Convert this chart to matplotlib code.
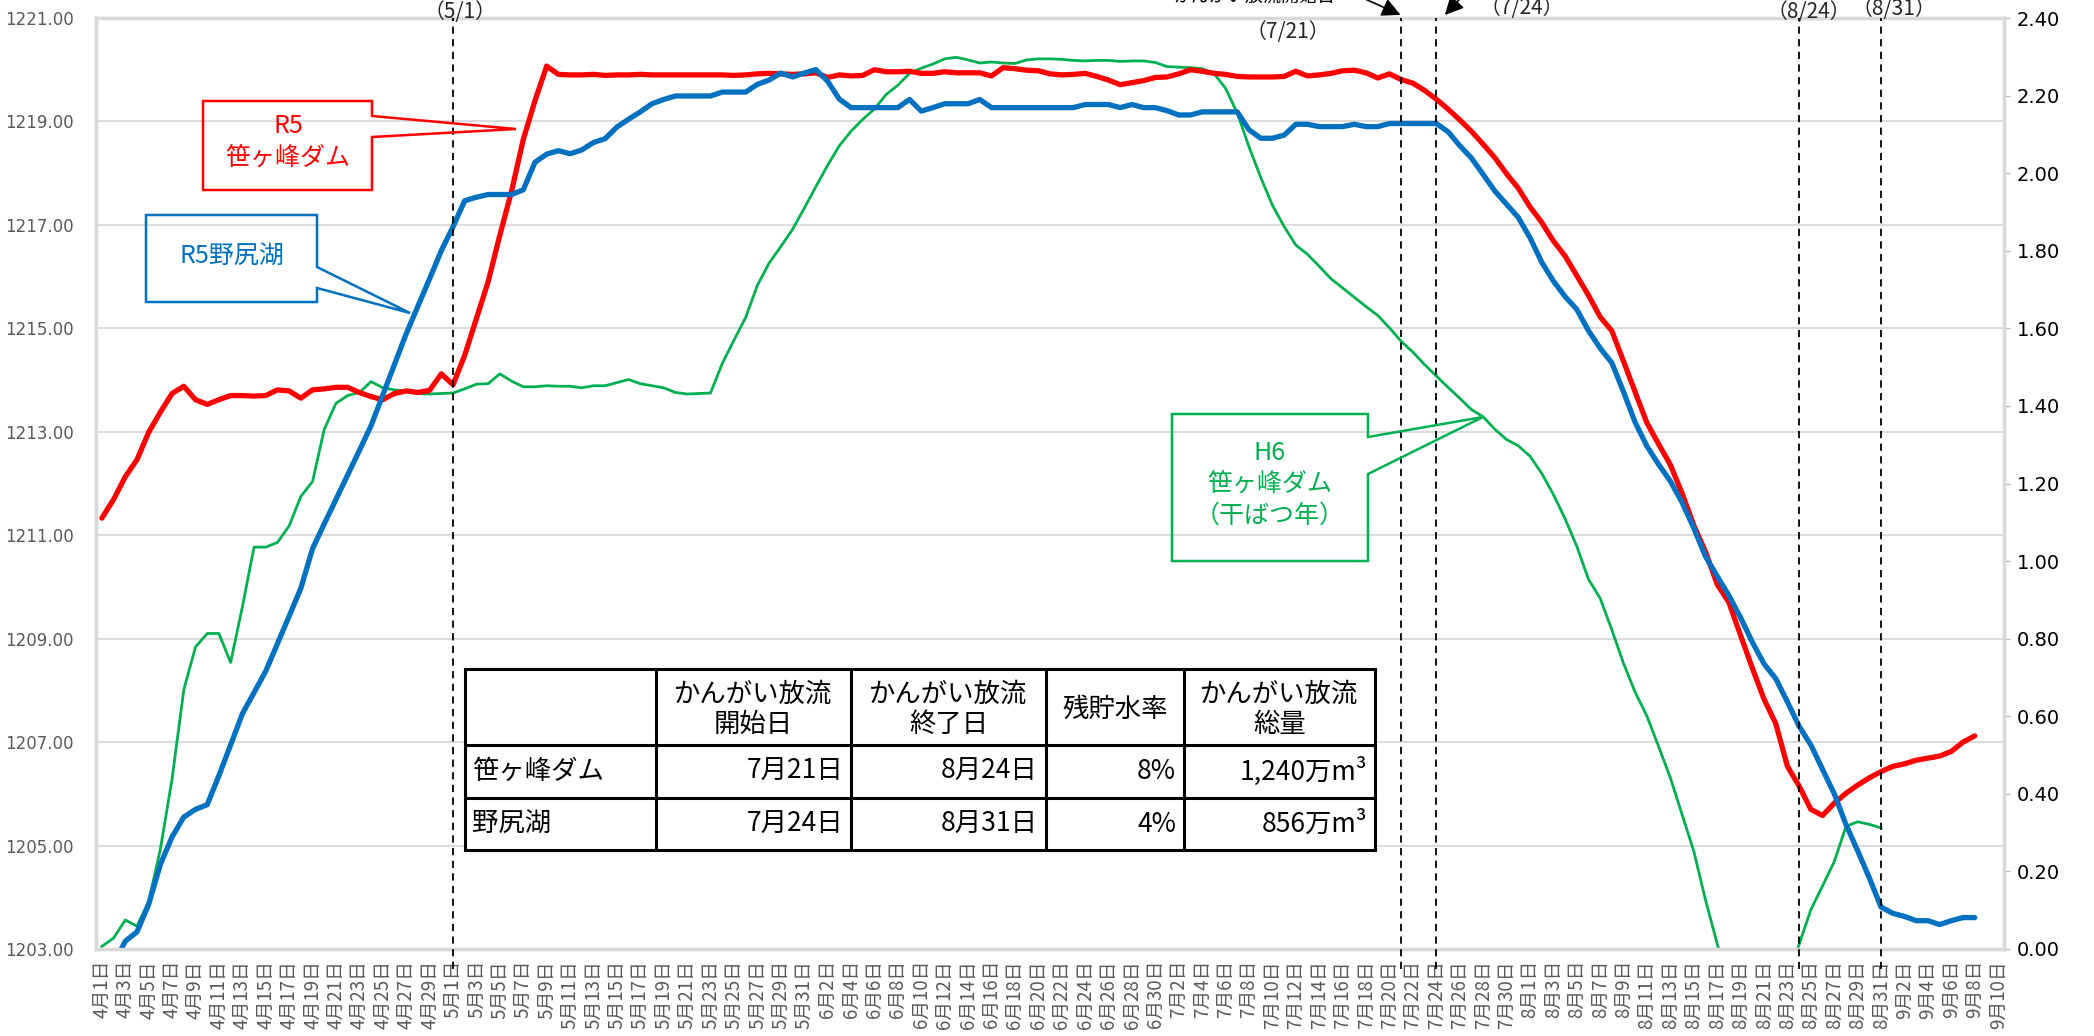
import numpy as np
import pandas as pd
import matplotlib
matplotlib.use('Agg')
import matplotlib.pyplot as plt
import matplotlib.transforms as mtransforms
from matplotlib.patches import Polygon, Rectangle

plt.rcParams['font.family'] = ['Noto Sans CJK JP', 'DejaVu Sans']

# --- data -------------------------------------------------------------
dates = pd.date_range('2023-04-01', '2023-09-10', freq='D')
day_labels = [f'{d.month}月{d.day}日' for d in dates]

# R5 笹ヶ峰ダム 貯水位 (m, left axis), 4/1 - 9/8
sasagamine_r5 = [
    1211.33, 1211.69, 1212.13, 1212.46, 1212.99, 1213.38, 1213.74, 1213.88, 1213.62, 1213.53,
    1213.62, 1213.70, 1213.70, 1213.69, 1213.70, 1213.81, 1213.79, 1213.65, 1213.81, 1213.83,
    1213.86, 1213.86, 1213.76, 1213.68, 1213.62, 1213.74, 1213.79, 1213.76, 1213.80, 1214.12,
    1213.91, 1214.48, 1215.19, 1215.90, 1216.80, 1217.65, 1218.65, 1219.40, 1220.07, 1219.91,
    1219.90, 1219.90, 1219.91, 1219.89, 1219.90, 1219.90, 1219.91, 1219.90, 1219.90, 1219.90,
    1219.90, 1219.90, 1219.90, 1219.90, 1219.89, 1219.90, 1219.92, 1219.93, 1219.92, 1219.91,
    1219.92, 1219.94, 1219.85, 1219.90, 1219.88, 1219.89, 1220.00, 1219.96, 1219.96, 1219.97,
    1219.93, 1219.93, 1219.96, 1219.94, 1219.94, 1219.94, 1219.88, 1220.04, 1220.02, 1219.99,
    1219.98, 1219.92, 1219.90, 1219.91, 1219.93, 1219.87, 1219.80, 1219.71, 1219.75, 1219.79,
    1219.85, 1219.86, 1219.92, 1220.00, 1219.97, 1219.93, 1219.91, 1219.87, 1219.86, 1219.86,
    1219.86, 1219.87, 1219.97, 1219.88, 1219.90, 1219.93, 1219.98, 1219.99, 1219.94, 1219.84,
    1219.92, 1219.81, 1219.74, 1219.60, 1219.43, 1219.24, 1219.03, 1218.81, 1218.56, 1218.30,
    1217.99, 1217.71, 1217.35, 1217.05, 1216.69, 1216.40, 1216.02, 1215.64, 1215.22, 1214.95,
    1214.36, 1213.76, 1213.17, 1212.76, 1212.36, 1211.81, 1211.19, 1210.68, 1210.05, 1209.70,
    1209.06, 1208.43, 1207.83, 1207.36, 1206.53, 1206.15, 1205.70, 1205.58, 1205.82, 1206.01,
    1206.17, 1206.31, 1206.43, 1206.53, 1206.58, 1206.65, 1206.69, 1206.73, 1206.82, 1207.00,
    1207.12,
]

# R5 野尻湖 水位 (m, right axis), 4/1 - 9/8
nojiriko_r5 = [
    -0.090, -0.040, 0.020, 0.044, 0.115, 0.218, 0.289, 0.340, 0.360, 0.372,
    0.447, 0.526, 0.606, 0.661, 0.716, 0.787, 0.858, 0.930, 1.032, 1.096,
    1.159, 1.222, 1.285, 1.349, 1.428, 1.507, 1.586, 1.657, 1.728, 1.800,
    1.862, 1.929, 1.938, 1.945, 1.945, 1.945, 1.957, 2.028, 2.049, 2.058,
    2.050, 2.060, 2.079, 2.089, 2.119, 2.139, 2.158, 2.179, 2.190, 2.199,
    2.199, 2.199, 2.199, 2.209, 2.209, 2.209, 2.229, 2.240, 2.258, 2.248,
    2.258, 2.267, 2.237, 2.191, 2.169, 2.169, 2.169, 2.169, 2.169, 2.190,
    2.160, 2.169, 2.179, 2.179, 2.179, 2.190, 2.169, 2.169, 2.169, 2.169,
    2.169, 2.169, 2.169, 2.169, 2.177, 2.177, 2.177, 2.169, 2.177, 2.169,
    2.169, 2.161, 2.150, 2.150, 2.158, 2.158, 2.158, 2.158, 2.112, 2.090,
    2.090, 2.098, 2.126, 2.126, 2.120, 2.120, 2.120, 2.126, 2.120, 2.120,
    2.128, 2.128, 2.128, 2.128, 2.128, 2.107, 2.071, 2.039, 1.997, 1.954,
    1.920, 1.886, 1.834, 1.771, 1.722, 1.682, 1.649, 1.594, 1.549, 1.511,
    1.436, 1.357, 1.296, 1.249, 1.206, 1.151, 1.085, 1.012, 0.961, 0.911,
    0.854, 0.791, 0.735, 0.697, 0.637, 0.574, 0.526, 0.463, 0.400, 0.321,
    0.253, 0.183, 0.108, 0.092, 0.084, 0.073, 0.073, 0.063, 0.073, 0.081,
    0.081,
]

# H6 笹ヶ峰ダム 貯水位 (m, left axis), 4/1 - 8/31
sasagamine_h6 = [
    1203.05, 1203.21, 1203.56, 1203.44, 1203.92, 1204.93, 1206.29, 1208.01, 1208.84, 1209.10,
    1209.10, 1208.54, 1209.61, 1210.77, 1210.77, 1210.86, 1211.18, 1211.75, 1212.04, 1213.05,
    1213.55, 1213.70, 1213.76, 1213.97, 1213.85, 1213.81, 1213.79, 1213.74, 1213.73, 1213.74,
    1213.75, 1213.83, 1213.92, 1213.93, 1214.12, 1213.98, 1213.87, 1213.87, 1213.89, 1213.88,
    1213.88, 1213.85, 1213.89, 1213.89, 1213.95, 1214.01, 1213.93, 1213.89, 1213.85, 1213.76,
    1213.73, 1213.74, 1213.75, 1214.32, 1214.77, 1215.21, 1215.83, 1216.26, 1216.58, 1216.91,
    1217.32, 1217.74, 1218.15, 1218.53, 1218.81, 1219.04, 1219.24, 1219.52, 1219.70, 1219.93,
    1220.03, 1220.11, 1220.21, 1220.24, 1220.19, 1220.13, 1220.15, 1220.13, 1220.12, 1220.19,
    1220.21, 1220.21, 1220.20, 1220.18, 1220.17, 1220.18, 1220.18, 1220.16, 1220.17, 1220.17,
    1220.14, 1220.06, 1220.05, 1220.04, 1220.02, 1219.93, 1219.64, 1219.16, 1218.51, 1217.92,
    1217.38, 1216.97, 1216.61, 1216.43, 1216.20, 1215.96, 1215.78, 1215.60, 1215.42, 1215.25,
    1215.01, 1214.75, 1214.54, 1214.30, 1214.08, 1213.86, 1213.65, 1213.43, 1213.29, 1213.05,
    1212.85, 1212.73, 1212.53, 1212.20, 1211.79, 1211.32, 1210.79, 1210.15, 1209.78, 1209.17,
    1208.52, 1207.96, 1207.50, 1206.91, 1206.31, 1205.60, 1204.89, 1203.95, 1203.10, 1202.30,
    1201.50, 1200.80, 1200.60, 1201.20, 1202.40, 1203.09, 1203.76, 1204.22, 1204.69, 1205.37,
    1205.46, 1205.41, 1205.34,
]

# 放流開始・終了日の縦線
marker_dates = ['2023-05-01', '2023-07-21', '2023-07-24', '2023-08-24', '2023-08-31']
marker_labels = ['（5/1）', '（7/21）', '（7/24）', '（8/24）', '（8/31）']

# 表
table_header = ['', 'かんがい放流\n開始日', 'かんがい放流\n終了日', '残貯水率', 'かんがい放流\n総量']
table_rows = [
    ['笹ヶ峰ダム', '7月21日', '8月24日', '8%', '1,240万m³'],
    ['野尻湖', '7月24日', '8月31日', '4%', '856万m³'],
]

RED = '#FF0000'
BLUE = '#0070C0'
GREEN = '#00B050'
GRID = '#D9D9D9'

W, H = 2094, 1036
fig = plt.figure(figsize=(W / 100, H / 100), dpi=100)
ax = fig.add_axes([96 / W, 1 - 949 / H, (2004 - 96) / W, (949 - 18) / H])
ax2 = ax.twinx()

n = len(dates)
ax.plot(np.arange(len(sasagamine_h6)), sasagamine_h6, color=GREEN, lw=2.0,
        solid_joinstyle='round', zorder=2)
ax.plot(np.arange(len(sasagamine_r5)), sasagamine_r5, color=RED, lw=3.8,
        solid_joinstyle='round', solid_capstyle='round', zorder=3)
ax2.plot(np.arange(len(nojiriko_r5)), nojiriko_r5, color=BLUE, lw=3.8,
         solid_joinstyle='round', solid_capstyle='round', zorder=2)

ax.set_xlim(-0.5, n - 0.5)
ax.set_ylim(1203, 1221)
ax2.set_ylim(0, 2.4)

ax.set_xticks(np.arange(0, n, 2))
ax.set_xticklabels(day_labels[::2], rotation=90, fontsize=13.5, color='#595959')
ax.tick_params(axis='x', length=0, pad=8)

ax.set_yticks(np.arange(1203, 1222, 2))
ax.set_yticklabels([f'{v:.2f}' for v in np.arange(1203, 1222, 2)],
                   fontsize=12, color='#595959', family='DejaVu Sans')
ax.tick_params(axis='y', length=0, pad=16)
ax.yaxis.grid(True, color=GRID, lw=1.3)
ax.set_axisbelow(True)

r_ticks = np.round(np.arange(0, 2.41, 0.2), 2)
ax2.set_yticks(r_ticks)
ax2.set_yticklabels([f'{v:.2f}' for v in r_ticks], fontsize=14, color='black',
                    family='DejaVu Sans')
ax2.tick_params(axis='y', length=4, width=1, color='#BFBFBF', pad=5)

for a in (ax, ax2):
    for s in a.spines.values():
        s.set_color(GRID)
        s.set_linewidth(2.4)

# vertical dashed lines with date labels
blend = mtransforms.blended_transform_factory(ax2.transData, ax2.transAxes)
label_offsets = [(0.6, 1.0064), (-9.7, 0.985), (7.3, 1.011), (0.85, 1.0064), (1.1, 1.0097)]
for d, lab, (dx, yy) in zip(marker_dates, marker_labels, label_offsets):
    xi = dates.get_loc(pd.Timestamp(d))
    ax2.axvline(xi, ymin=-0.022, ymax=1.0, color='black', lw=1.3,
                dashes=(4, 3), clip_on=False, zorder=4)
    ax2.text(xi + dx, yy, lab, transform=blend, ha='center', va='center',
             fontsize=15, color='#262626', clip_on=False)

# overlay in pixel coordinates for callouts and table
ov = fig.add_axes([0, 0, 1, 1], zorder=5)
ov.set_xlim(0, W)
ov.set_ylim(H, 0)
ov.axis('off')


def callout(box, notch, tip, color):
    x0, y0, x1, y1 = box
    pts = [(x0, y0), (x1, y0), (x1, notch[0]), tip, (x1, notch[1]), (x1, y1), (x0, y1)]
    ov.add_patch(Polygon(pts, closed=True, fill=False, edgecolor=color, lw=1.8,
                         joinstyle='miter'))


callout((203, 101, 372, 190), (116, 137), (516, 129), RED)
ov.text(288, 126, 'R5', color=RED, fontsize=18, ha='center', va='center')
ov.text(288, 158, '笹ヶ峰ダム', color=RED, fontsize=18, ha='center', va='center')

callout((146, 215, 317, 302), (267, 288), (410, 313), BLUE)
ov.text(232, 256, 'R5野尻湖', color=BLUE, fontsize=18, ha='center', va='center')

callout((1172, 414, 1368, 561), (437, 474), (1483, 417), GREEN)
for txt, yy in zip(['H6', '笹ヶ峰ダム', '（干ばつ年）'], [453, 484, 516]):
    ov.text(1270, yy, txt, color=GREEN, fontsize=18, ha='center', va='center')

# arrows pointing at the start lines (labels above are cut off in the original)
ov.text(1336, 6, 'かんがい放流開始日', fontsize=13, ha='right', va='bottom', clip_on=False)
ov.annotate('', xy=(1403, 16), xytext=(1345, -10), annotation_clip=False,
            arrowprops=dict(arrowstyle='-|>', color='black', lw=1.2, mutation_scale=28))
ov.annotate('', xy=(1443, 17), xytext=(1470, -12), annotation_clip=False,
            arrowprops=dict(arrowstyle='-|>', color='black', lw=1.2, mutation_scale=28))

# table
col_x = [465, 656, 851, 1046, 1184, 1375]
row_y = [669, 745, 798, 850]
ov.add_patch(Rectangle((col_x[0], row_y[0]), col_x[-1] - col_x[0], row_y[-1] - row_y[0],
                       facecolor='white', edgecolor='none', zorder=1))
for x in col_x:
    ov.plot([x, x], [row_y[0], row_y[-1]], color='black', lw=2.2, zorder=2,
            solid_capstyle='projecting')
for y in row_y:
    ov.plot([col_x[0], col_x[-1]], [y, y], color='black', lw=2.2, zorder=2,
            solid_capstyle='projecting')
for j, h in enumerate(table_header):
    if h:
        ov.text((col_x[j] + col_x[j + 1]) / 2, (row_y[0] + row_y[1]) / 2 + 2, h,
                ha='center', va='center', fontsize=19, linespacing=1.15, zorder=3)
for r, row in enumerate(table_rows):
    yc = (row_y[r + 1] + row_y[r + 2]) / 2
    for j, cell in enumerate(row):
        if j == 0:
            ov.text(col_x[0] + 7, yc, cell, ha='left', va='center', fontsize=19, zorder=3)
        else:
            ov.text(col_x[j + 1] - 8, yc, cell, ha='right', va='center', fontsize=19, zorder=3)

fig.savefig('out.png', dpi=100)
